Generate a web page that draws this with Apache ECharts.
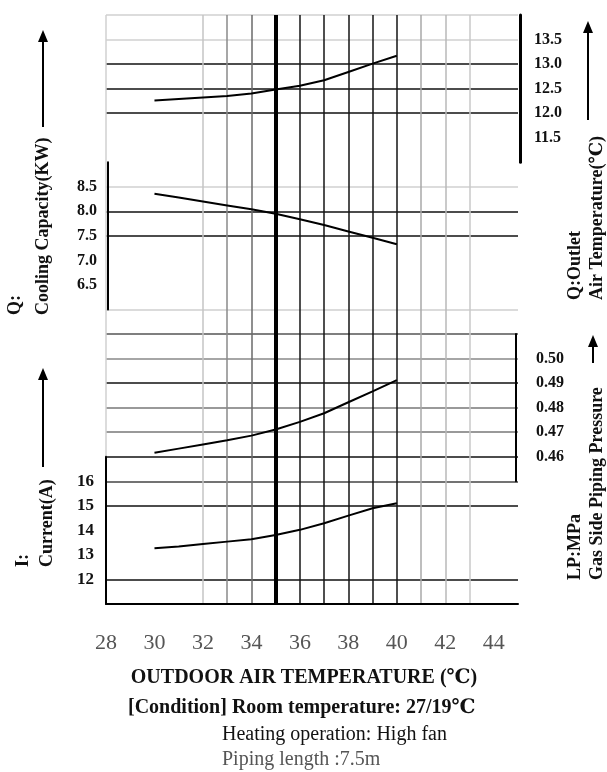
<!DOCTYPE html>
<html><head><meta charset="utf-8">
<script src="https://cdn.jsdelivr.net/npm/echarts@6/dist/echarts.min.js"></script>
<style>html,body{margin:0;padding:0;background:#fff}#c{width:607px;height:772px}</style>
</head><body><div id="c"></div>
<script>
// ---- data ----
const temps = [30, 31, 32, 33, 34, 35, 36, 37, 38, 39, 40];
const outletTemp = [12.26, 12.29, 12.32, 12.35, 12.40, 12.48, 12.56, 12.67, 12.84, 13.01, 13.17];
const capacity = [8.36, 8.28, 8.20, 8.12, 8.04, 7.95, 7.84, 7.72, 7.59, 7.46, 7.33];
const pressure = [0.4616, 0.4633, 0.4650, 0.4667, 0.4686, 0.4711, 0.4742, 0.4777, 0.4822, 0.4866, 0.4912];
const current = [13.27, 13.34, 13.44, 13.54, 13.64, 13.81, 14.02, 14.29, 14.60, 14.90, 15.10];
const xTickLabels = [28, 30, 32, 34, 36, 38, 40, 42, 44];
const outletTicks = [11.5, 12.0, 12.5, 13.0, 13.5];
const capacityTicks = [6.5, 7.0, 7.5, 8.0, 8.5];
const pressureTicks = [0.46, 0.47, 0.48, 0.49, 0.50];
const currentTicks = [12, 13, 14, 15, 16];

// ---- layout ----
const L = 106, W = 412, T = 15, STEP = 24.54;
const FONT = "'Liberation Serif','DejaVu Serif',serif";
const NONE = 'rgba(0,0,0,0)';

const xColors = ['#d0d0d0', NONE, NONE, NONE, '#c4c4c4', '#8a8a8a', '#6a6a6a', '#000',
  '#141414', '#141414', '#141414', '#141414', '#141414', '#a8a8a8', '#b8b8b8', '#c8c8c8', NONE, NONE];
const yTopDown = ['#d0d0d0', '#d0d0d0', '#111', '#111', '#111', NONE, NONE, '#d0d0d0', '#111', '#111',
  NONE, NONE, '#cfcfcf', '#555', '#888', '#111', '#777', '#777', '#111', '#444', '#111', NONE, NONE, '#111', '#111'];
const yColors = yTopDown.slice().reverse();

function pick(ticks, digits) {
  return v => {
    for (const t of ticks) if (Math.abs(v - t) < 1e-6) return t.toFixed(digits);
    return '';
  };
}

const panelGrid = (i) => ({ left: L, width: W, top: T + i * STEP, height: 6 * STEP, outerBoundsMode: 'none' });
const hiddenX = (g) => ({ type: 'value', gridIndex: g, min: 28, max: 45, show: false });
const tickFont = { fontFamily: FONT, fontWeight: 'bold', fontSize: 16, color: '#111' };

const option = {
  animation: false,
  backgroundColor: '#fff',
  grid: [
    { left: L, width: W, top: T, height: 24 * STEP, outerBoundsMode: 'none' },
    panelGrid(0), panelGrid(6), panelGrid(13), panelGrid(18)
  ],
  xAxis: [
    {
      type: 'value', gridIndex: 0, min: 28, max: 45, interval: 1,
      axisLine: { show: true, lineStyle: { color: '#000', width: 2 } },
      axisTick: { show: false },
      axisLabel: {
        margin: 28, fontFamily: FONT, fontSize: 22, color: '#555',
        formatter: v => xTickLabels.includes(v) ? String(v) : ''
      },
      splitLine: { show: true, lineStyle: { color: xColors, width: 1.5 } }
    },
    hiddenX(1), hiddenX(2), hiddenX(3), hiddenX(4)
  ],
  yAxis: [
    {
      type: 'value', gridIndex: 0, min: 0, max: 24, interval: 1,
      axisLine: { show: false }, axisTick: { show: false }, axisLabel: { show: false },
      splitLine: { show: true, lineStyle: { color: yColors, width: 1.6 } }
    },
    {
      type: 'value', gridIndex: 1, position: 'right', offset: 2, min: 11, max: 14, interval: 0.5,
      axisLine: { show: true, lineStyle: { color: '#000', width: 3 } },
      axisTick: { show: false }, splitLine: { show: false },
      axisLabel: Object.assign({ margin: 14, formatter: pick(outletTicks, 1) }, tickFont)
    },
    {
      type: 'value', gridIndex: 2, position: 'left', offset: -2, min: 6, max: 9, interval: 0.5,
      axisLine: { show: true, lineStyle: { color: '#000', width: 2 } },
      axisTick: { show: false }, splitLine: { show: false },
      axisLabel: Object.assign({ margin: 11, formatter: pick(capacityTicks, 1) }, tickFont)
    },
    {
      type: 'value', gridIndex: 3, position: 'right', offset: -2, min: 0.45, max: 0.51, interval: 0.01,
      axisLine: { show: true, lineStyle: { color: '#000', width: 2 } },
      axisTick: { show: false }, splitLine: { show: false },
      axisLabel: Object.assign({ margin: 20, formatter: pick(pressureTicks, 2) }, tickFont)
    },
    {
      type: 'value', gridIndex: 4, position: 'left', min: 11, max: 17, interval: 1,
      axisLine: { show: true, lineStyle: { color: '#000', width: 2 } },
      axisTick: { show: false }, splitLine: { show: false },
      axisLabel: Object.assign({ margin: 12, fontSize: 17, formatter: pick(currentTicks, 0) }, tickFont, { fontSize: 17 })
    }
  ],
  series: [
    {
      type: 'line', xAxisIndex: 0, yAxisIndex: 0, data: [], silent: true,
      markLine: {
        silent: true, symbol: 'none', label: { show: false },
        lineStyle: { color: '#000', width: 4, type: 'solid' },
        data: [{ xAxis: 35 }]
      }
    },
    { type: 'line', xAxisIndex: 1, yAxisIndex: 1, data: temps.map((t, i) => [t, outletTemp[i]]),
      symbol: 'none', lineStyle: { color: '#000', width: 2 } },
    { type: 'line', xAxisIndex: 2, yAxisIndex: 2, data: temps.map((t, i) => [t, capacity[i]]),
      symbol: 'none', lineStyle: { color: '#000', width: 2 } },
    { type: 'line', xAxisIndex: 3, yAxisIndex: 3, data: temps.map((t, i) => [t, pressure[i]]),
      symbol: 'none', lineStyle: { color: '#000', width: 2 } },
    { type: 'line', xAxisIndex: 4, yAxisIndex: 4, data: temps.map((t, i) => [t, current[i]]),
      symbol: 'none', lineStyle: { color: '#000', width: 2 } }
  ],
  graphic: []
};

function rtext(x, y, text, size) {
  return { type: 'text', x: x, y: y, rotation: Math.PI / 2,
    style: { text: text, font: 'bold ' + size + 'px ' + FONT, fill: '#111', align: 'left', verticalAlign: 'middle' } };
}
function arrow(x, yTail, yTip) {
  return [
    { type: 'line', shape: { x1: x, y1: yTail, x2: x, y2: yTip + 10 }, style: { stroke: '#000', lineWidth: 2 } },
    { type: 'polygon', shape: { points: [[x, yTip], [x - 5, yTip + 12], [x + 5, yTip + 12]] }, style: { fill: '#000' } }
  ];
}
function htext(x, y, text, font, color, align) {
  return { type: 'text', x: x, y: y,
    style: { text: text, font: font, fill: color, align: align || 'left', verticalAlign: 'middle' } };
}

option.graphic = [
  rtext(15, 315, 'Q:', 18),
  rtext(43, 315, 'Cooling Capacity(KW)', 18),
  ...arrow(43, 127, 30),
  rtext(23, 567, 'I:', 18),
  rtext(47, 567, 'Current(A)', 18),
  ...arrow(43, 467, 368),
  rtext(575, 300, 'Q:Outlet', 18),
  rtext(597, 300, 'Air Temperature(\u2103)', 18),
  ...arrow(588, 120, 21),
  rtext(575, 580, 'LP:MPa', 18),
  rtext(597, 580, 'Gas Side Piping Pressure', 18),
  ...arrow(593, 363, 335),
  htext(304, 678, 'OUTDOOR AIR TEMPERATURE (\u2103)', 'bold 20px ' + FONT, '#111', 'center'),
  htext(128, 708, '[Condition] Room temperature: 27/19\u2103', 'bold 20px ' + FONT, '#111'),
  htext(222, 735, 'Heating operation: High fan', '20px ' + FONT, '#111'),
  htext(222, 760, 'Piping length :7.5m', '20px ' + FONT, '#555')
];

const chart = echarts.init(document.getElementById('c'), null, { renderer: 'canvas' });
chart.setOption(option);
</script>
</body></html>
